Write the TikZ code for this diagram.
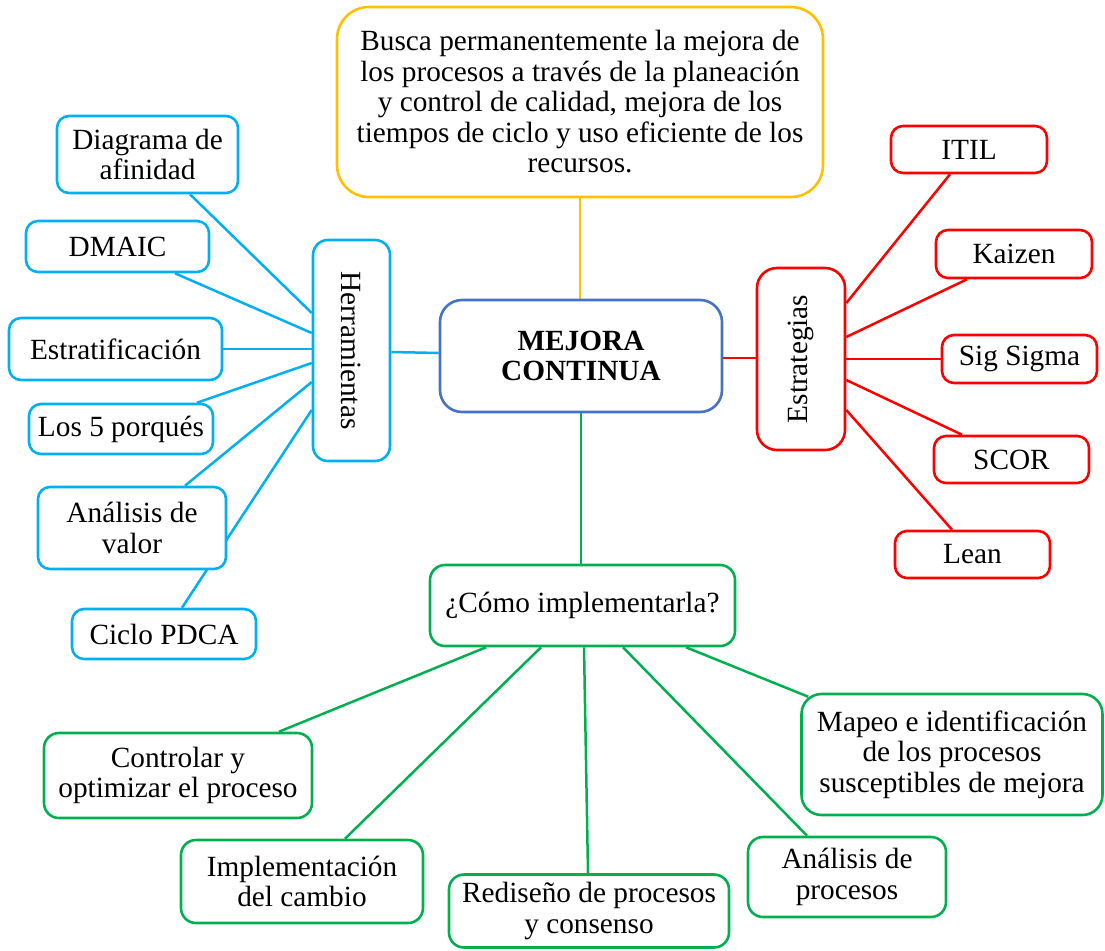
\documentclass[tikz,border=0pt]{standalone}
\usepackage{fontspec}
\setmainfont{Liberation Serif}
\usepackage{graphicx}
\usetikzlibrary{calc,backgrounds}
\definecolor{cyanc}{HTML}{00B0F0}
\definecolor{redc}{HTML}{FF0000}
\definecolor{greenc}{HTML}{00B050}
\definecolor{yellowc}{HTML}{FFC000}
\definecolor{bluec}{HTML}{4472C4}
\tikzset{
  box/.style={draw, fill=white, rounded corners=12pt, line width=2.6pt, align=center, inner sep=0pt},
  cbox/.style={box, draw=cyanc},
  rbox/.style={box, draw=redc},
  gbox/.style={box, draw=greenc, rounded corners=15pt},
  conn/.style={line width=2.5pt},
}
\begin{document}
\begin{tikzpicture}[x=1pt,y=-1pt,font=\fontsize{29.3}{30.5}\selectfont]
\useasboundingbox (0,0) rectangle (1105,950);
% central
\node[box, draw=bluec, rounded corners=22pt, minimum width=282pt, minimum height=112pt] (mc) at (581,356) {\textbf{MEJORA}\\\textbf{CONTINUA}};
\node[box, draw=yellowc, rounded corners=32pt, minimum width=486pt, minimum height=190pt] (top) at (580,102)
  {Busca permanentemente la mejora de\\los procesos a través de la planeación\\y control de calidad, mejora de los\\tiempos de ciclo y uso eficiente de los\\recursos.};
% herramientas
\node[cbox, rounded corners=15pt, minimum width=77pt, minimum height=221pt] (herr) at (351.5,350.5) {\rotatebox{-90}{Herramientas}};
\node[cbox, minimum width=181pt, minimum height=77pt] (diag) at (147.5,154.5) {Diagrama de\\afinidad};
\node[cbox, minimum width=183pt, minimum height=51pt] (dmaic) at (117.5,246.5) {DMAIC};
\node[cbox, minimum width=213pt, minimum height=62pt] (estrat) at (115.5,349) {Estratificación};
\node[cbox, minimum width=184pt, minimum height=50pt] (cinco) at (121,429) {Los 5 porqués};
\node[cbox, minimum width=188pt, minimum height=82pt] (valor) at (132,528) {Análisis de\\valor};
\node[cbox, minimum width=184pt, minimum height=50pt] (pdca) at (164,634) {Ciclo PDCA};
% estrategias
\node[rbox, rounded corners=20pt, minimum width=88pt, minimum height=182pt] (estr) at (801,359) {\rotatebox{90}{Estrategias}};
\node[rbox, minimum width=156pt, minimum height=47pt] (itil) at (969,149.5) {ITIL};
\node[rbox, minimum width=156pt, minimum height=48pt] (kaizen) at (1014,254) {Kaizen};
\node[rbox, minimum width=155pt, minimum height=48pt] (sig) at (1019.5,359) {Sig Sigma};
\node[rbox, minimum width=155pt, minimum height=47pt] (scor) at (1011.5,459.5) {SCOR};
\node[rbox, minimum width=155pt, minimum height=47pt] (lean) at (972.5,554.5) {Lean};
% implementacion
\node[gbox, minimum width=305pt, minimum height=81pt] (como) at (582.5,605.5) {¿Cómo implementarla?};
\node[gbox, minimum width=268pt, minimum height=85pt] (contr) at (178,775.5) {Controlar y\\optimizar el proceso};
\node[gbox, minimum width=242pt, minimum height=83pt] (impl) at (302,881.5) {Implementación\\del cambio};
\node[gbox, minimum width=280pt, minimum height=73pt] (redis) at (589,911) {Rediseño de procesos\\y consenso};
\node[gbox, minimum width=198pt, minimum height=80pt] (anal) at (847,877) {Análisis de\\procesos};
\node[gbox, rounded corners=20pt, minimum width=301pt, minimum height=121pt] (mapeo) at (952,754.5) {Mapeo e identificación\\de los procesos\\susceptibles de mejora};
\begin{pgfonlayer}{background}
% yellow
\draw[conn, yellowc] (top.south) -- (top.south |- mc.north);
% cyan
\draw[conn, cyanc] ($(herr.east)+(0,1.5)$) -- ($(mc.west)+(0,-3)$);
\draw[conn, cyanc] ($(herr.west)+(0,-37.5)$) -- ($(diag.south)+(42.5,0)$);
\draw[conn, cyanc] ($(herr.west)+(0,-17.5)$) -- ($(dmaic.south)+(57.5,0)$);
\draw[conn, cyanc] (estrat.east) -- (estrat.east -| herr.west);
\draw[conn, cyanc] ($(herr.west)+(0,12.5)$) -- ($(cinco.north)+(76,0)$);
\draw[conn, cyanc] ($(herr.west)+(0,31.5)$) -- ($(valor.north)+(53,0)$);
\draw[conn, cyanc] ($(herr.west)+(0,59.5)$) -- ($(pdca.north)+(18,0)$);
% red
\draw[conn, redc] ($(mc.east)+(0,2)$) -- ($(estr.west)+(0,-1)$);
\draw[conn, redc] ($(estr.east)+(0,-56)$) -- ($(itil.south)+(-19,0)$);
\draw[conn, redc] ($(estr.east)+(0,-22)$) -- ($(kaizen.south)+(-47,0)$);
\draw[conn, redc] (sig.west) -- (sig.west -| estr.east);
\draw[conn, redc] ($(estr.east)+(0,21)$) -- ($(scor.north)+(-49.5,0)$);
\draw[conn, redc] ($(estr.east)+(0,51)$) -- ($(lean.north)+(-20.5,0)$);
% green
\draw[conn, greenc] (mc.south) -- (mc.south |- como.north);
\draw[conn, greenc] ($(como.south)+(-96.5,0)$) -- ($(contr.north)+(101,0)$);
\draw[conn, greenc] ($(como.south)+(-41.5,0)$) -- ($(impl.north)+(43,0)$);
\draw[conn, greenc] ($(como.south)+(1.5,0)$) -- ($(redis.north)+(-1,0)$);
\draw[conn, greenc] ($(como.south)+(40.5,0)$) -- ($(anal.north)+(-40,0)$);
\draw[conn, greenc] ($(como.south)+(103.5,0)$) -- ($(mapeo.north west)+(8,4)$);
\end{pgfonlayer}
\end{tikzpicture}
\end{document}
